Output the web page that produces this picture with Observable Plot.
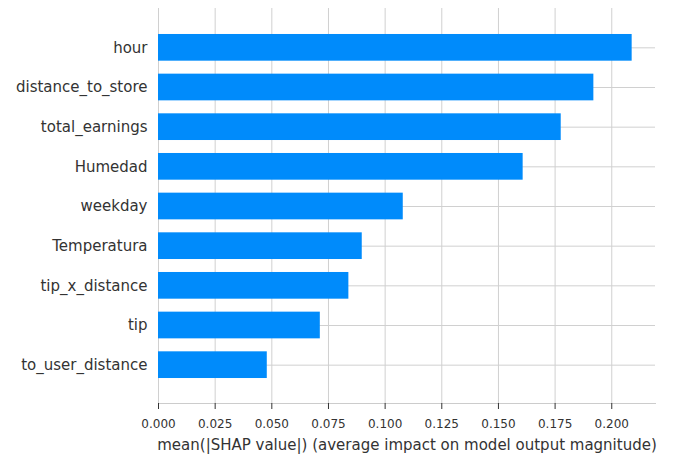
<!DOCTYPE html>
<html><head><meta charset="utf-8">
<script src="https://cdn.jsdelivr.net/npm/d3@7"></script>
<script src="https://cdn.jsdelivr.net/npm/@observablehq/plot@0.6"></script>
<style>body{margin:0;background:#fff}</style>
</head><body><div id="chart"></div>
<script>
const features = ["hour","distance_to_store","total_earnings","Humedad","weekday","Temperatura","tip_x_distance","tip","to_user_distance"];
const values = [0.2090,0.1921,0.1777,0.1609,0.1080,0.0899,0.0840,0.0714,0.0480];
const xTicks = [0,0.025,0.05,0.075,0.1,0.125,0.15,0.175,0.2];
const xLabel = "mean(|SHAP value|) (average impact on model output magnitude)";
const data = features.map((f,i)=>({feature:f, value: values[i]}));
const xMax = 0.2193;

const chart = Plot.plot({
  width: 673, height: 455,
  marginLeft: 158, marginRight: 18, marginTop: 8, marginBottom: 52,
  style: {fontFamily: "DejaVu Sans", fontSize: "12px", color: "#333", background: "#fff"},
  x: {domain: [0, xMax], label: null},
  y: {domain: features, range: [27.5, 384.5], paddingInner: 0.327, paddingOuter: 0.1635, round: false, label: null},
  marks: [
    Plot.ruleX(xTicks, {stroke: "#d0d0d0", strokeWidth: 1}),
    Plot.ruleY(data, {y: "feature", x1: 0, x2: xMax, stroke: "#d0d0d0"}),
    Plot.barX(data, {y: "feature", x: "value", fill: "#008bfb"}),
    Plot.frame({anchor: "bottom", stroke: "#ccc"}),
    Plot.axisX({ticks: xTicks, tickFormat: d3.format(".3f"), tickSize: 6, tickPadding: 10, label: null, stroke: "#333"}),
    Plot.axisY({tickSize: 0, tickPadding: 11, fontSize: 15, label: null}),
    Plot.text([xLabel], {frameAnchor: "bottom", dy: 42, dx: 0, fontSize: 15, text: d => d, lineAnchor: "middle", fill: "#333"})
  ]
});
document.getElementById("chart").appendChild(chart);
</script>
</body></html>
